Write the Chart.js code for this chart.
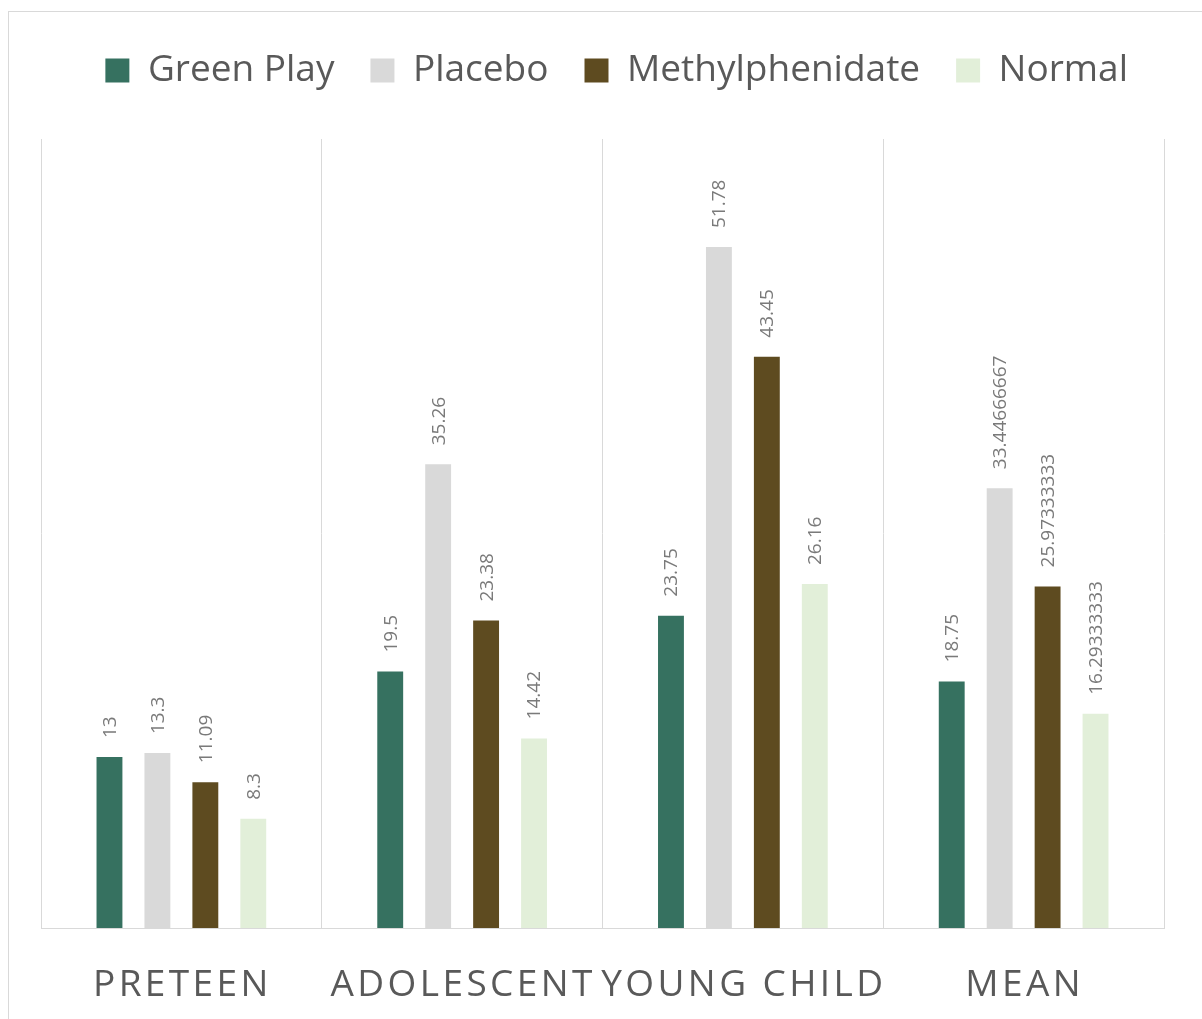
<!DOCTYPE html>
<html>
<head>
<meta charset="utf-8">
<script src="https://cdn.jsdelivr.net/npm/chart.js@4.4.1/dist/chart.umd.min.js"></script>
<style>
  html, body { margin: 0; padding: 0; background: #ffffff; overflow: hidden; }
  #frame {
    position: absolute; left: 8px; top: 11px;
    width: 1220px; height: 1040px;
    border: 1px solid #d9d9d9; box-sizing: border-box;
  }
  #wrap { position: absolute; left: 0; top: 0; width: 1202px; height: 1019px; }
</style>
</head>
<body>
<div id="frame"></div>
<div id="wrap"><canvas id="c"></canvas></div>
<script>
// Age groups along the category axis
const categories = ['PRETEEN', 'ADOLESCENT', 'YOUNG CHILD', 'MEAN'];

// Scores per treatment group
const greenPlay       = [13, 19.5, 23.75, 18.75];
const placebo         = [13.3, 35.26, 51.78, 33.44666667];
const methylphenidate = [11.09, 23.38, 43.45, 25.97333333];
const normal          = [8.3, 14.42, 26.16, 16.29333333];

const seriesNames = ['Green Play', 'Placebo', 'Methylphenidate', 'Normal'];
const seriesColors = ['#367160', '#d9d9d9', '#5e4b20', '#e2efd9'];
const seriesValues = [greenPlay, placebo, methylphenidate, normal];

const FONT = '"Open Sans", "Noto Sans", sans-serif';

// Rotated value labels above each bar
const valueLabels = {
  id: 'valueLabels',
  afterDatasetsDraw(chart) {
    const ctx = chart.ctx;
    ctx.save();
    ctx.font = '19px ' + FONT;
    ctx.fillStyle = '#7a7a7a';
    ctx.textAlign = 'left';
    ctx.textBaseline = 'middle';
    chart.data.datasets.forEach((ds, di) => {
      chart.getDatasetMeta(di).data.forEach((bar, i) => {
        ctx.save();
        ctx.translate(bar.x + 1, bar.y - 19);
        ctx.rotate(-Math.PI / 2);
        ctx.fillText(String(ds.data[i]), 0, 0);
        ctx.restore();
      });
    });
    ctx.restore();
  }
};

// Spaced-out category names under the axis
const categoryLabels = {
  id: 'categoryLabels',
  afterDraw(chart) {
    const ctx = chart.ctx;
    const x = chart.scales.x;
    ctx.save();
    ctx.font = '37px ' + FONT;
    ctx.fillStyle = '#595959';
    ctx.textAlign = 'center';
    ctx.textBaseline = 'alphabetic';
    if ('letterSpacing' in ctx) ctx.letterSpacing = '3.4px';
    chart.data.labels.forEach((lab, i) => {
      ctx.fillText(lab, x.getPixelForValue(i) + 1, chart.chartArea.bottom + 68);
    });
    ctx.restore();
  }
};

new Chart(document.getElementById('c'), {
  type: 'bar',
  data: {
    labels: categories,
    datasets: seriesNames.map((name, k) => ({
      label: name,
      data: seriesValues[k],
      backgroundColor: seriesColors[k],
      borderWidth: 0,
      categoryPercentage: 0.683,
      barPercentage: 0.54
    }))
  },
  options: {
    responsive: true,
    maintainAspectRatio: false,
    animation: false,
    layout: { padding: { left: 41, right: 38, top: 16, bottom: 91 } },
    plugins: {
      legend: {
        position: 'top',
        align: 'end',
        labels: {
          font: { family: FONT, size: 37 },
          color: '#595959',
          boxWidth: 24,
          boxHeight: 24,
          padding: 36
        }
      },
      tooltip: { enabled: false }
    },
    scales: {
      x: {
        grid: { display: true, color: '#d9d9d9', lineWidth: 1, drawTicks: false, offset: true },
        border: { display: true, color: '#d9d9d9', width: 1 },
        ticks: { display: false }
      },
      // empty band between the legend and the plot
      gap: {
        type: 'category',
        position: 'top',
        display: true,
        grid: { display: false, drawTicks: false },
        border: { display: false },
        ticks: { display: false },
        afterFit(scale) { scale.height = 40; }
      },
      y: {
        display: false,
        min: 0,
        max: 60
      }
    }
  },
  plugins: [valueLabels, categoryLabels]
});
</script>
</body>
</html>
